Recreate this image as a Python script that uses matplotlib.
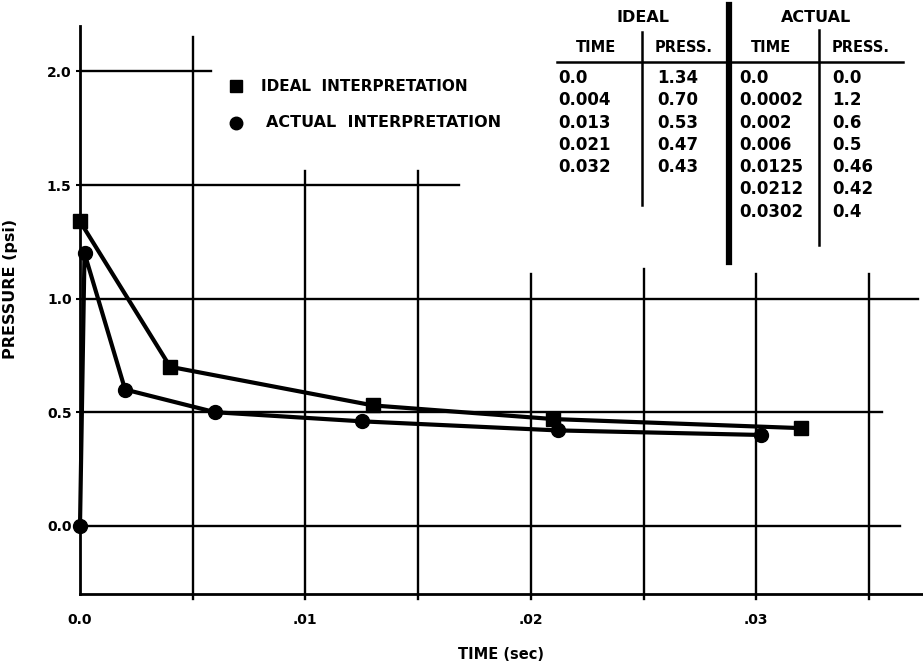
import numpy as np
import matplotlib
matplotlib.use('Agg')
import matplotlib.pyplot as plt

# tabulated pressure-time readings (kept as printed so the table and the plot agree)
ideal_time = ["0.0", "0.004", "0.013", "0.021", "0.032"]
ideal_press = ["1.34", "0.70", "0.53", "0.47", "0.43"]
actual_time = ["0.0", "0.0002", "0.002", "0.006", "0.0125", "0.0212", "0.0302"]
actual_press = ["0.0", "1.2", "0.6", "0.5", "0.46", "0.42", "0.4"]

x_ticks = [0.0, 0.01, 0.02, 0.03]
x_tick_labels = ["0.0", ".01", ".02", ".03"]
y_ticks = [0.0, 0.5, 1.0, 1.5, 2.0]
y_tick_labels = ["0.0", "0.5", "1.0", "1.5", "2.0"]

ideal_t = np.array(ideal_time, dtype=float)
ideal_p = np.array(ideal_press, dtype=float)
actual_t = np.array(actual_time, dtype=float)
actual_p = np.array(actual_press, dtype=float)

plt.rcParams['font.family'] = ['DejaVu Sans']
plt.rcParams['font.weight'] = 'bold'

fig = plt.figure(figsize=(9.23, 6.62), dpi=100)
ax = fig.add_axes([80 / 923, 68 / 662, 843 / 923, 568 / 662])
ax.set_xlim(0, 0.0374)
ax.set_ylim(-0.3, 2.2)

for s in ['top', 'right']:
    ax.spines[s].set_visible(False)
for s in ['left', 'bottom']:
    ax.spines[s].set_linewidth(2)

# hand-drawn style grid: lines stop short where the table sits
lw = 1.7
ax.plot([0, 0.0058], [2.0, 2.0], color='k', lw=lw)
ax.plot([0, 0.0168], [1.5, 1.5], color='k', lw=lw)
ax.plot([0, 0.0372], [1.0, 1.0], color='k', lw=lw)
ax.plot([0, 0.0356], [0.5, 0.5], color='k', lw=lw)
ax.plot([0, 0.0364], [0.0, 0.0], color='k', lw=lw)
v_tops = {0.005: 2.15, 0.01: 1.56, 0.015: 1.56, 0.02: 1.11,
          0.025: 1.13, 0.03: 1.11, 0.035: 1.11}
for xv, top in v_tops.items():
    ax.plot([xv, xv], [-0.32, top], color='k', lw=lw, clip_on=False)

# data
ax.plot(ideal_t, ideal_p, color='k', lw=3, marker='s', ms=10, clip_on=False, zorder=3)
ax.plot(actual_t, actual_p, color='k', lw=3, marker='o', ms=10, clip_on=False, zorder=3)

ax.set_xticks(x_ticks)
ax.set_xticklabels(x_tick_labels, fontsize=10, fontweight='bold')
ax.set_yticks(y_ticks)
ax.set_yticklabels(y_tick_labels, fontsize=10, fontweight='bold')
ax.tick_params(axis='x', length=0, pad=14)
ax.tick_params(axis='y', length=3, width=1.5, pad=3)
ax.set_xlabel("TIME (sec)", fontsize=10.5, fontweight='bold', labelpad=14)
ax.set_ylabel("PRESSURE (psi)", fontsize=11.5, fontweight='bold')
ax.yaxis.set_label_coords(-0.073, (594 - 289) / 568)

# legend
ax.plot([0.0069], [1.935], marker='s', color='k', ms=9, ls='none')
ax.text(0.00805, 1.935, "IDEAL  INTERPRETATION", fontsize=11, fontweight='bold',
        va='center', ha='left')
ax.plot([0.0069], [1.775], marker='o', color='k', ms=9, ls='none')
ax.text(0.00825, 1.775, "ACTUAL  INTERPRETATION", fontsize=11.5, fontweight='bold',
        va='center', ha='left')

# data table in figure pixel coordinates
def px(x, y):
    return x / 923, 1 - y / 662

hf = dict(fontsize=11.5, fontweight='bold', va='center', ha='center')
fig.text(*px(643, 17), "IDEAL", **hf)
fig.text(*px(816, 17), "ACTUAL", **hf)
sf = dict(fontsize=10.5, fontweight='bold', va='center', ha='center')
fig.text(*px(596, 47), "TIME", **sf)
fig.text(*px(684, 47), "PRESS.", **sf)
fig.text(*px(771, 47), "TIME", **sf)
fig.text(*px(861, 47), "PRESS.", **sf)

row_y = [78 + 22.3 * i for i in range(7)]
cf = dict(fontsize=12, fontweight='bold', va='center', ha='left')
for i, (t, p) in enumerate(zip(ideal_time, ideal_press)):
    fig.text(*px(558, row_y[i]), t, **cf)
    fig.text(*px(657, row_y[i]), p, **cf)
for i, (t, p) in enumerate(zip(actual_time, actual_press)):
    fig.text(*px(739, row_y[i]), t, **cf)
    fig.text(*px(832, row_y[i]), p, **cf)

def fline(x0, y0, x1, y1, w):
    a = px(x0, y0)
    b = px(x1, y1)
    fig.add_artist(plt.Line2D([a[0], b[0]], [a[1], b[1]], color='k', lw=w))

fline(557, 62, 903, 62, 1.8)
fline(729, 5, 729, 262, 4.5)
fline(642, 32, 642, 205, 1.8)
fline(819, 30, 819, 245, 1.8)

plt.savefig('out.png', dpi=100)
plt.close()
